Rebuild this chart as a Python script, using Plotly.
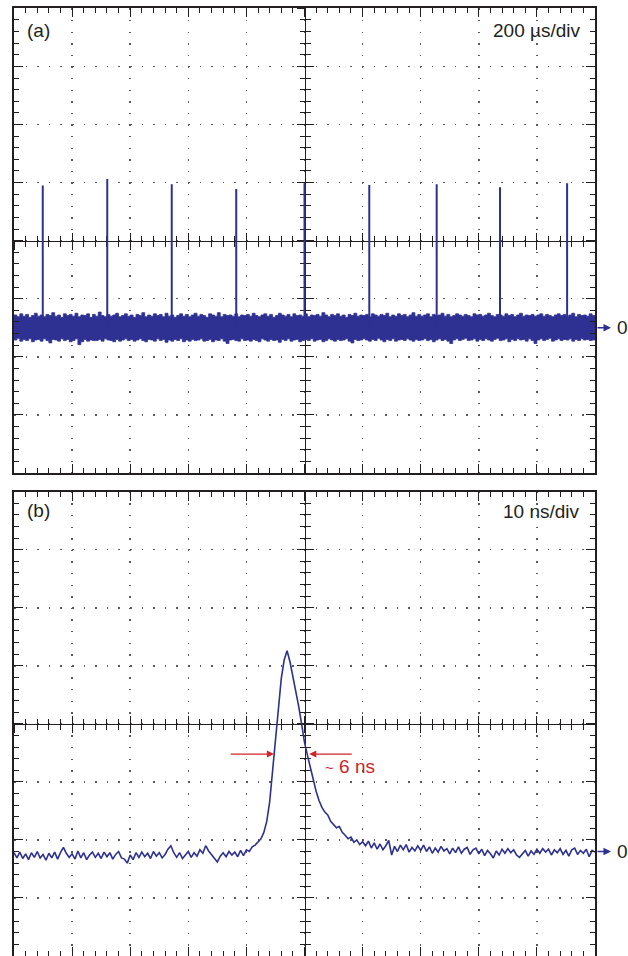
import numpy as np
import plotly.graph_objects as go

# ---------------- data: panel (a) ----------------
pulse_times_us = [99, 321, 543, 765, 1000, 1223, 1455, 1673, 1904]
pulse_heights_div = [2.45, 2.56, 2.47, 2.39, 2.49, 2.46, 2.47, 2.42, 2.49]

noise_step_us = 10
# upper / lower envelope of the noise band (hundredths of a division)
noise_top_cdiv = [
    22, 19, 24, 20, 23, 18, 21, 25, 20, 22, 19, 23, 21, 26, 20, 22, 18, 24, 21, 23,
    20, 25, 19, 22, 21, 24, 18, 23, 20, 27, 21, 19, 23, 20, 22, 25, 19, 21, 24, 20,
    22, 18, 23, 21, 26, 19, 22, 20, 24, 21, 23, 19, 25, 20, 22, 18, 21, 24, 20, 23,
    19, 22, 25, 20, 23, 21, 18, 24, 22, 20, 26, 19, 23, 21, 22, 20, 24, 19, 22, 21,
    23, 20, 25, 21, 19, 22, 24, 20, 23, 18, 21, 25, 22, 20, 23, 19, 24, 21, 22, 20,
    24, 19, 22, 21, 23, 20, 26, 22, 19, 23, 21, 24, 20, 22, 18, 23, 21, 25, 20, 22,
    21, 23, 19, 24, 22, 20, 23, 21, 25, 19, 22, 20, 24, 21, 23, 19, 22, 26, 20, 23,
    20, 22, 24, 19, 23, 21, 22, 25, 20, 23, 19, 21, 24, 22, 20, 23, 21, 19, 24, 22,
    23, 20, 22, 25, 21, 19, 23, 22, 20, 24, 21, 23, 19, 22, 25, 20, 22, 21, 23, 20,
    22, 24, 20, 23, 21, 19, 22, 24, 21, 23, 20, 22, 25, 19, 23, 21, 22, 20, 24, 21,
    22,
]
noise_bot_cdiv = [
    -21, -18, -23, -20, -22, -19, -24, -21, -20, -23, -19, -22, -26, -20, -21, -23, -19, -22, -20, -24,
    -22, -19, -29, -24, -20, -23, -21, -22, -22, -20, -23, -19, -21, -22, -24, -20, -23, -21, -19, -22,
    -20, -23, -21, -19, -22, -24, -20, -21, -23, -19, -22, -20, -25, -21, -23, -20, -22, -19, -24, -21,
    -23, -20, -22, -21, -19, -23, -22, -20, -24, -21, -22, -19, -23, -27, -21, -20, -22, -23, -19, -22,
    -21, -23, -20, -22, -24, -19, -21, -23, -20, -22, -21, -25, -20, -22, -19, -23, -21, -20, -24, -22,
    -20, -22, -19, -23, -21, -20, -24, -22, -19, -21, -23, -20, -22, -21, -19, -23, -26, -20, -22, -21,
    -19, -21, -23, -20, -22, -18, -21, -24, -20, -22, -19, -23, -21, -20, -22, -19, -21, -23, -20, -22,
    -21, -19, -22, -20, -24, -21, -19, -22, -20, -23, -27, -21, -19, -22, -20, -18, -22, -21, -19, -23,
    -20, -22, -19, -21, -23, -20, -18, -22, -21, -19, -24, -20, -22, -19, -21, -20, -23, -19, -22, -27,
    -21, -19, -22, -20, -18, -23, -21, -19, -22, -20, -21, -19, -23, -20, -22, -19, -21, -20, -22, -21,
    -20,
]

# ---------------- data: panel (b) ----------------
trace_step_ns = 0.5
trace_b_div = [
    # 0 - 40 ns
    -0.02, -0.11, -0.01, -0.12, -0.04, -0.14, -0.02, -0.10, 0.00, -0.11,
    -0.05, -0.15, -0.03, -0.11, -0.01, -0.13, -0.02, 0.07, -0.03, -0.10,
    -0.04, -0.13, 0.01, -0.11, -0.02, -0.14, -0.06, -0.01, -0.10, -0.03,
    -0.12, -0.01, -0.09, -0.02, -0.13, -0.05, 0.00, -0.11, -0.13, -0.20,
    -0.06, -0.14, -0.02, -0.10, -0.01, -0.09, -0.03, -0.12, 0.00, -0.08,
    -0.02, -0.11, -0.05, 0.04, 0.10, -0.02, -0.10, -0.02, -0.12, -0.05,
    0.00, -0.10, -0.02, -0.08, 0.03, -0.03, 0.10, 0.01, -0.06, -0.11,
    -0.18, -0.08, -0.02, -0.09, 0.00, -0.06, -0.01, -0.09, 0.02, -0.07,
    0.03,
    # 40.5 - 60 ns (pulse)
    0.00, 0.08, 0.11, 0.17, 0.22, 0.33, 0.52, 0.85, 1.40, 1.98,
    2.50, 2.98, 3.30, 3.46, 3.27, 3.03, 2.80, 2.50, 2.20, 1.88,
    1.66, 1.44, 1.24, 1.04, 0.88, 0.76, 0.68, 0.63, 0.52, 0.47,
    0.41, 0.43, 0.33, 0.28, 0.22, 0.25, 0.16, 0.20, 0.12, 0.17,
    # 60.5 - 100 ns
    0.10, 0.18, 0.06, 0.15, 0.04, 0.13, 0.03, 0.10, 0.19, -0.06,
    0.09, 0.00, 0.11, 0.03, 0.12, -0.01, 0.07, 0.01, 0.10, 0.02,
    0.11, 0.00, 0.08, -0.03, 0.06, -0.01, 0.09, 0.01, 0.05, -0.04,
    0.06, -0.02, 0.08, -0.03, 0.04, 0.07, -0.05, 0.03, 0.06, -0.04,
    0.04, -0.07, 0.02, -0.04, -0.11, 0.01, -0.06, 0.04, -0.03, 0.05,
    -0.02, 0.03, -0.06, -0.10, -0.04, 0.02, -0.08, 0.01, -0.05, 0.04,
    -0.03, 0.05, -0.01, 0.04, -0.06, 0.03, -0.02, 0.05, -0.05, 0.02,
    -0.08, 0.03, 0.06, -0.05, 0.02, -0.03, 0.04, -0.09, 0.02, -0.01,
]

fwhm_left_ns = 44.75
fwhm_right_ns = 50.8
fwhm_level_div = 1.68

# ---------------- style ----------------
W, H = 628, 956
ML, MR = 14, 33
BLUE = "#2e3192"
INK = "#231f20"
RED = "#d2232a"
GRID = "#58595b"
FONT = "Liberation Sans, Arial, Helvetica, sans-serif"
FS = 19

dom_a = [1 - 473 / H, 1 - 8.3 / H]
dom_b = [0.0, 1 - 491.7 / H]
ycen_a = (dom_a[0] + dom_a[1]) / 2
ycen_b = (dom_b[0] + dom_b[1]) / 2

fig = go.Figure()

# noise band (a)
t_noise = np.arange(len(noise_top_cdiv)) * noise_step_us
fig.add_trace(go.Scatter(x=t_noise, y=np.array(noise_top_cdiv) / 100, mode="lines",
                         line=dict(color=BLUE, width=0.8, shape="hv"), xaxis="x", yaxis="y",
                         showlegend=False, hoverinfo="skip"))
fig.add_trace(go.Scatter(x=t_noise, y=np.array(noise_bot_cdiv) / 100, mode="lines",
                         line=dict(color=BLUE, width=0.8, shape="hv"), fill="tonexty",
                         fillcolor=BLUE, xaxis="x", yaxis="y", showlegend=False,
                         hoverinfo="skip"))
# pulses (a)
px, py = [], []
for t, h in zip(pulse_times_us, pulse_heights_div):
    px += [t, t, None]
    py += [0, h, None]
fig.add_trace(go.Scatter(x=px, y=py, mode="lines", line=dict(color=BLUE, width=2),
                         xaxis="x", yaxis="y", showlegend=False, hoverinfo="skip"))

# trace (b)
t_b = np.arange(len(trace_b_div)) * trace_step_ns
fig.add_trace(go.Scatter(x=t_b, y=trace_b_div, mode="lines",
                         line=dict(color=BLUE, width=1.6), xaxis="x2", yaxis="y2",
                         showlegend=False, hoverinfo="skip"))

# dummy traces to register center-graticule overlay axes
for n in (3, 4, 5, 6):
    fig.add_trace(go.Scatter(x=[None], y=[None], xaxis=f"x{n}", yaxis=f"y{n}",
                             showlegend=False, hoverinfo="skip"))


def frame_axis(rng, tick0, dtick, anchor, domain=None):
    d = dict(range=rng, anchor=anchor, showline=True, linewidth=2, linecolor=INK,
             mirror="ticks", ticks="inside", ticklen=9, tickwidth=1, tickcolor=INK,
             tick0=tick0, dtick=dtick, showticklabels=False, zeroline=False,
             showgrid=True, gridcolor=GRID, gridwidth=1.5, griddash="1.5px,10.1px",
             minor=dict(tick0=tick0, dtick=dtick / 5, ticks="inside", ticklen=5,
                        tickwidth=1, tickcolor=INK, showgrid=False),
             fixedrange=True)
    if domain is not None:
        d["domain"] = domain
    return d


def center_axis(rng, tick0, dtick, over, pos, ticks):
    return dict(range=rng, overlaying=over, anchor="free", position=pos,
                showline=True, linewidth=1.5, linecolor=INK, ticks=ticks,
                ticklen=8, tickwidth=1, tickcolor=INK, tick0=tick0, dtick=dtick,
                minor=dict(tick0=tick0, dtick=dtick / 5, ticks=ticks, ticklen=4.5,
                           tickwidth=1, tickcolor=INK, showgrid=False),
                showticklabels=False, showgrid=False, zeroline=False,
                layer="below traces", fixedrange=True)


xr_a, yr_a = [0, 2000], [-2.5, 5.5]
xr_b, yr_b = [0, 100], [-1.8, 6.2]

fig.update_layout(
    width=W, height=H,
    margin=dict(l=ML, r=MR, t=0, b=0, pad=0),
    paper_bgcolor="white", plot_bgcolor="white",
    showlegend=False,
    xaxis=frame_axis(xr_a, 0, 200, "y", [0, 1]),
    yaxis=frame_axis(yr_a, 0.5, 1, "x", dom_a),
    xaxis2=frame_axis(xr_b, 0, 10, "y2", [0, 1]),
    yaxis2=frame_axis(yr_b, 0.2, 1, "x2", dom_b),
    xaxis3=center_axis(xr_a, 0, 200, "x", ycen_a, "outside"),
    xaxis4=center_axis(xr_a, 0, 200, "x", ycen_a, "inside"),
    yaxis3=center_axis(yr_a, 0.5, 1, "y", 0.5, "outside"),
    yaxis4=center_axis(yr_a, 0.5, 1, "y", 0.5, "inside"),
    xaxis5=center_axis(xr_b, 0, 10, "x2", ycen_b, "outside"),
    xaxis6=center_axis(xr_b, 0, 10, "x2", ycen_b, "inside"),
    yaxis5=center_axis(yr_b, 0.2, 1, "y2", 0.5, "outside"),
    yaxis6=center_axis(yr_b, 0.2, 1, "y2", 0.5, "inside"),
    font=dict(family=FONT, size=FS, color=INK),
)

pw = W - ML - MR


def xp(pix):
    return (pix - ML) / pw


def yp(pix):
    return 1 - pix / H


ann = [
    dict(text="(a)", x=xp(25), y=yp(30), xref="paper", yref="paper",
         xanchor="left", yanchor="middle", showarrow=False),
    dict(text="200 µs/div", x=xp(582), y=yp(30), xref="paper", yref="paper",
         xanchor="right", yanchor="middle", showarrow=False),
    dict(text="(b)", x=xp(25), y=yp(511), xref="paper", yref="paper",
         xanchor="left", yanchor="middle", showarrow=False),
    dict(text="10 ns/div", x=xp(582), y=yp(512), xref="paper", yref="paper",
         xanchor="right", yanchor="middle", showarrow=False),
]
for yref in ("y", "y2"):
    ann.append(dict(text="", x=xp(611), y=0, xref="paper", yref=yref,
                    ax=-15, ay=0, showarrow=True, arrowhead=2, arrowsize=1,
                    arrowwidth=1.5, arrowcolor=BLUE, standoff=0))
    ann.append(dict(text="0", x=xp(615), y=0, xref="paper", yref=yref,
                    xanchor="left", yanchor="middle", showarrow=False))

ann.append(dict(text="", x=fwhm_left_ns, y=fwhm_level_div, xref="x2", yref="y2",
                ax=fwhm_left_ns - 7.7, ay=fwhm_level_div, axref="x2", ayref="y2",
                showarrow=True, arrowhead=2, arrowsize=1.1, arrowwidth=1.3,
                arrowcolor=RED, standoff=0))
ann.append(dict(text="", x=fwhm_right_ns, y=fwhm_level_div, xref="x2", yref="y2",
                ax=fwhm_right_ns + 7.6, ay=fwhm_level_div, axref="x2", ayref="y2",
                showarrow=True, arrowhead=2, arrowsize=1.1, arrowwidth=1.3,
                arrowcolor=RED, standoff=0))
ann.append(dict(text="<span style='font-size:15px'>~</span> 6 ns",
                x=53.2, y=fwhm_level_div - 0.22, xref="x2", yref="y2",
                xanchor="left", yanchor="middle", showarrow=False,
                font=dict(family=FONT, size=FS, color=RED)))

fig.update_layout(annotations=ann)

fig.write_html("out.html", config={"displayModeBar": False, "staticPlot": True},
               post_script="document.body.style.margin='0';document.body.style.overflow='hidden';")
